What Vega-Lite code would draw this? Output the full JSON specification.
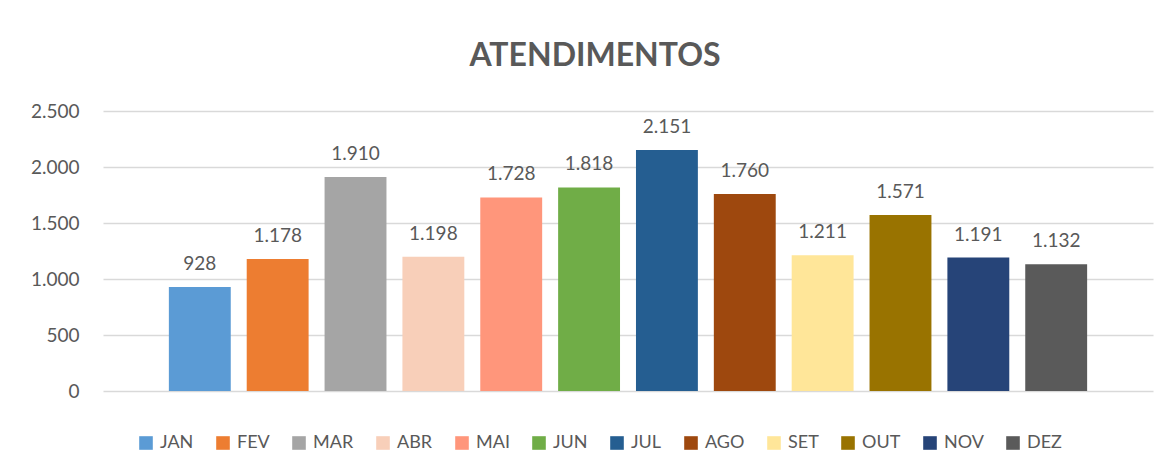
{
  "$schema": "https://vega.github.io/schema/vega-lite/v6.json",
  "width": 1050,
  "height": 280,
  "autosize": {"type": "none"},
  "padding": {"left": 103, "top": 111, "right": 17, "bottom": 84},
  "background": "white",
  "config": {
    "locale": {"number": {"decimal": ",", "thousands": ".", "grouping": [3], "currency": ["R$", ""]}},
    "view": {"stroke": null},
    "font": "Lato"
  },
  "title": {
    "text": "ATENDIMENTOS",
    "font": "Lato",
    "fontSize": 32,
    "fontWeight": "bold",
    "color": "#595959",
    "anchor": "middle",
    "baseline": "alphabetic",
    "offset": 4,
    "dx": -33
  },
  "data": {
    "values": [
      {"mes": "JAN", "atendimentos": 928},
      {"mes": "FEV", "atendimentos": 1178},
      {"mes": "MAR", "atendimentos": 1910},
      {"mes": "ABR", "atendimentos": 1198},
      {"mes": "MAI", "atendimentos": 1728},
      {"mes": "JUN", "atendimentos": 1818},
      {"mes": "JUL", "atendimentos": 2151},
      {"mes": "AGO", "atendimentos": 1760},
      {"mes": "SET", "atendimentos": 1211},
      {"mes": "OUT", "atendimentos": 1571},
      {"mes": "NOV", "atendimentos": 1191},
      {"mes": "DEZ", "atendimentos": 1132}
    ]
  },
  "encoding": {
    "x": {
      "field": "mes",
      "type": "nominal",
      "sort": ["JAN", "FEV", "MAR", "ABR", "MAI", "JUN", "JUL", "AGO", "SET", "OUT", "NOV", "DEZ"],
      "scale": {"paddingInner": 0.205, "paddingOuter": 0.846},
      "axis": null
    },
    "y": {
      "field": "atendimentos",
      "type": "quantitative",
      "scale": {"domain": [0, 2500], "nice": false},
      "axis": {
        "title": null,
        "values": [0, 500, 1000, 1500, 2000, 2500],
        "format": ",d",
        "domain": false,
        "ticks": false,
        "labelPadding": 24,
        "labelFont": "Lato",
        "labelFontSize": 19,
        "labelColor": "#595959",
        "gridColor": "#D9D9D9",
        "gridWidth": 1.5
      }
    }
  },
  "layer": [
    {
      "mark": {"type": "bar"},
      "encoding": {
        "color": {
          "field": "mes",
          "type": "nominal",
          "scale": {
            "domain": ["JAN", "FEV", "MAR", "ABR", "MAI", "JUN", "JUL", "AGO", "SET", "OUT", "NOV", "DEZ"],
            "range": ["#5B9BD5", "#ED7D31", "#A5A5A5", "#F8CFB9", "#FF967B", "#70AD47", "#255E91", "#9E480E", "#FFE699", "#997300", "#264478", "#5A5A5A"]
          },
          "legend": {
            "title": null,
            "orient": "none",
            "direction": "horizontal",
            "columns": 12,
            "legendX": 34,
            "legendY": 323,
            "padding": 0,
            "symbolType": "square",
            "symbolSize": 185,
            "symbolStrokeWidth": 0,
            "symbolOpacity": 1,
            "labelFont": "Lato",
            "labelFontSize": 18,
            "labelColor": "#595959",
            "labelOffset": 5,
            "columnPadding": 20
          }
        }
      }
    },
    {
      "mark": {"type": "text", "baseline": "alphabetic", "dy": -17, "font": "Lato", "fontSize": 19, "color": "#595959"},
      "encoding": {
        "text": {"field": "atendimentos", "type": "quantitative", "format": ",d"}
      }
    }
  ]
}
